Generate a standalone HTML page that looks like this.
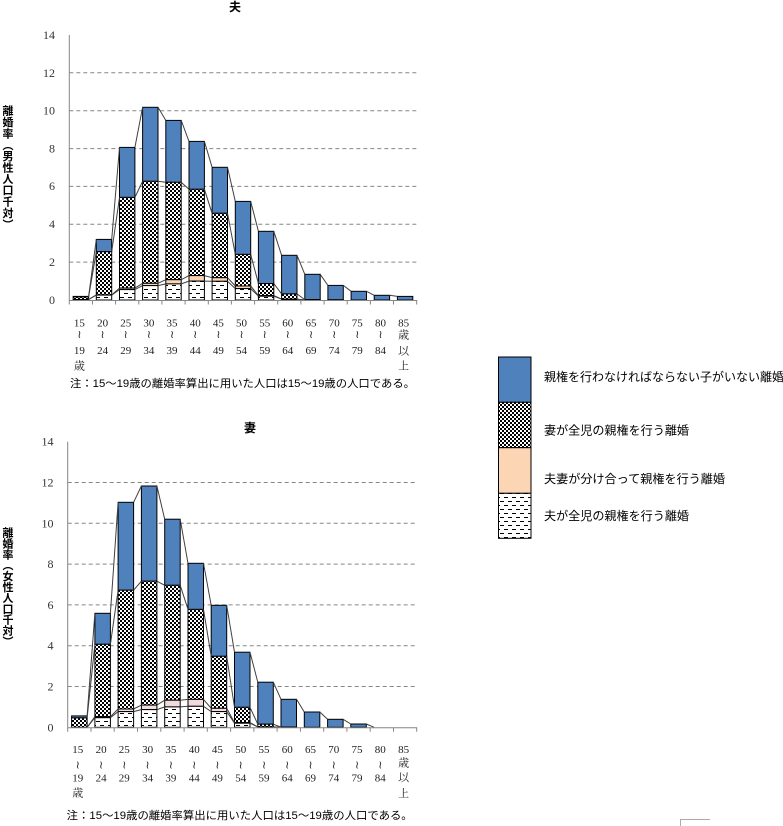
<!DOCTYPE html>
<html><head><meta charset="utf-8"><style>
html,body{margin:0;padding:0;background:#fff;}
svg{display:block;}
text{font-family:"Liberation Sans","Noto Sans CJK JP",sans-serif;}
.num text{font-family:"Liberation Serif","Noto Serif CJK JP",serif;font-size:11px;fill:#222;}
.yl text{font-family:"Liberation Serif","Noto Serif CJK JP",serif;font-size:12px;fill:#333;text-anchor:end;}
.ax text{font-weight:bold;font-size:11px;text-anchor:middle;fill:#000;}
.lg{font-size:12px;fill:#000;}
.note{font-size:11px;fill:#000;}
.grid{stroke:#868686;stroke-width:1;stroke-dasharray:4 3;}
.axis{stroke:#868686;stroke-width:1;fill:none;}
.sl{stroke:#404040;stroke-width:1;fill:none;}
.b{fill:#4f81bd;stroke:#000;stroke-width:1;}
.c{fill:url(#chk);stroke:#000;stroke-width:1;}
.p1{fill:#fcd5b5;stroke:#000;stroke-width:1;}
.p2{fill:#f2dcdb;stroke:#000;stroke-width:1;}
.d{fill:url(#dsh);stroke:#000;stroke-width:1;}
</style></head><body>
<svg width="783" height="826" viewBox="0 0 783 826" xmlns="http://www.w3.org/2000/svg">
<defs>
<pattern id="chk" width="4" height="4" patternUnits="userSpaceOnUse">
<rect width="4" height="4" fill="#fff"/><rect x="0" y="0" width="2" height="2" fill="#000"/><rect x="2" y="2" width="2" height="2" fill="#000"/>
</pattern>
<pattern id="dsh" width="8" height="8" patternUnits="userSpaceOnUse">
<rect width="8" height="8" fill="#fff"/><rect x="0" y="1" width="4" height="1" fill="#000"/><rect x="4" y="5" width="4" height="1" fill="#000"/>
</pattern>
</defs>
<rect width="783" height="826" fill="#fff"/>

<!-- ===== TOP CHART ===== -->
<text x="235" y="11" font-size="12" font-weight="bold" text-anchor="middle">夫</text>
<g>
<line class="grid" x1="69.3" y1="262.1" x2="416.7" y2="262.1"/>
<line class="grid" x1="69.3" y1="224.3" x2="416.7" y2="224.3"/>
<line class="grid" x1="69.3" y1="186.4" x2="416.7" y2="186.4"/>
<line class="grid" x1="69.3" y1="148.6" x2="416.7" y2="148.6"/>
<line class="grid" x1="69.3" y1="110.7" x2="416.7" y2="110.7"/>
<line class="grid" x1="69.3" y1="72.8" x2="416.7" y2="72.8"/>
</g>
<g class="yl">
<text x="55" y="304">0</text>
<text x="55" y="266">2</text>
<text x="55" y="228">4</text>
<text x="55" y="190">6</text>
<text x="55" y="152.5">8</text>
<text x="55" y="114.5">10</text>
<text x="55" y="77">12</text>
<text x="55" y="39">14</text>
</g>
<g class="ax">
<text x="8" y="114.7">離</text><text x="8" y="126.1">婚</text><text x="8" y="137.4">率</text>
<text x="8" y="148.8">︵</text><text x="8" y="160.1">男</text><text x="8" y="171.5">性</text>
<text x="8" y="182.9">人</text><text x="8" y="194.2">口</text><text x="8" y="205.6">千</text>
<text x="8" y="216.9">対</text><text x="8" y="228.3">︶</text>
</g>
<!-- bars top -->
<g>
<rect class="b" x="73.2" y="296.4" width="15.4" height="0.6"/><rect class="c" x="73.2" y="297.0" width="15.4" height="2.6"/><rect class="d" x="73.2" y="299.6" width="15.4" height="0.4"/>
<rect class="b" x="96.3" y="239.4" width="15.4" height="12.3"/><rect class="c" x="96.3" y="251.7" width="15.4" height="43.2"/><rect class="p1" x="96.3" y="294.9" width="15.4" height="0.2"/><rect class="d" x="96.3" y="295.1" width="15.4" height="4.9"/>
<rect class="b" x="119.5" y="147.4" width="15.4" height="50.0"/><rect class="c" x="119.5" y="197.4" width="15.4" height="90.7"/><rect class="p1" x="119.5" y="288.1" width="15.4" height="1.5"/><rect class="d" x="119.5" y="289.6" width="15.4" height="10.4"/>
<rect class="b" x="142.6" y="107.3" width="15.4" height="74.0"/><rect class="c" x="142.6" y="181.3" width="15.4" height="102.0"/><rect class="p1" x="142.6" y="283.3" width="15.4" height="2.3"/><rect class="d" x="142.6" y="285.6" width="15.4" height="14.4"/>
<rect class="b" x="165.8" y="120.4" width="15.4" height="61.9"/><rect class="c" x="165.8" y="182.3" width="15.4" height="97.4"/><rect class="p1" x="165.8" y="279.7" width="15.4" height="4.2"/><rect class="d" x="165.8" y="283.9" width="15.4" height="16.1"/>
<rect class="b" x="189.0" y="141.4" width="15.4" height="47.9"/><rect class="c" x="189.0" y="189.3" width="15.4" height="86.3"/><rect class="p1" x="189.0" y="275.6" width="15.4" height="5.5"/><rect class="d" x="189.0" y="281.1" width="15.4" height="18.9"/>
<rect class="b" x="212.1" y="167.3" width="15.4" height="46.0"/><rect class="c" x="212.1" y="213.3" width="15.4" height="64.4"/><rect class="p1" x="212.1" y="277.7" width="15.4" height="3.6"/><rect class="d" x="212.1" y="281.3" width="15.4" height="18.7"/>
<rect class="b" x="235.3" y="201.4" width="15.4" height="53.0"/><rect class="c" x="235.3" y="254.4" width="15.4" height="31.6"/><rect class="p1" x="235.3" y="286.0" width="15.4" height="2.6"/><rect class="d" x="235.3" y="288.6" width="15.4" height="11.4"/>
<rect class="b" x="258.4" y="231.3" width="15.4" height="52.2"/><rect class="c" x="258.4" y="283.5" width="15.4" height="12.1"/><rect class="p1" x="258.4" y="295.6" width="15.4" height="0.6"/><rect class="d" x="258.4" y="296.2" width="15.4" height="3.8"/>
<rect class="b" x="281.6" y="255.3" width="15.4" height="38.6"/><rect class="c" x="281.6" y="293.9" width="15.4" height="5.3"/><rect class="d" x="281.6" y="299.2" width="15.4" height="0.8"/>
<rect class="b" x="304.8" y="274.3" width="15.4" height="25.3"/><rect class="c" x="304.8" y="299.6" width="15.4" height="0.4"/>
<rect class="b" x="327.9" y="285.4" width="15.4" height="14.4"/><rect class="c" x="327.9" y="299.8" width="15.4" height="0.2"/>
<rect class="b" x="351.1" y="291.3" width="15.4" height="8.7"/>
<rect class="b" x="374.2" y="295.3" width="15.4" height="4.7"/>
<rect class="b" x="397.4" y="296.4" width="15.4" height="3.6"/>
</g>
<path class="sl" d="M88.6 296.4 L96.3 239.4 M111.7 239.4 L119.5 147.4 M134.9 147.4 L142.6 107.3 M158.0 107.3 L165.8 120.4 M181.2 120.4 L189.0 141.4 M204.4 141.4 L212.1 167.3 M227.5 167.3 L235.3 201.4 M250.7 201.4 L258.4 231.3 M273.8 231.3 L281.6 255.3 M297.0 255.3 L304.8 274.3 M320.2 274.3 L327.9 285.4 M343.3 285.4 L351.1 291.3 M366.5 291.3 L374.2 295.3 M389.6 295.3 L397.4 296.4"/>
<path class="sl" d="M88.6 297.0 L96.3 251.7 M111.7 251.7 L119.5 197.4 M134.9 197.4 L142.6 181.3 M158.0 181.3 L165.8 182.3 M181.2 182.3 L189.0 189.3 M204.4 189.3 L212.1 213.3 M227.5 213.3 L235.3 254.4 M250.7 254.4 L258.4 283.5 M273.8 283.5 L281.6 293.9 M297.0 293.9 L304.8 299.6"/>
<path class="sl" d="M88.6 299.6 L96.3 294.9 M111.7 294.9 L119.5 288.1 M134.9 288.1 L142.6 283.3 M158.0 283.3 L165.8 279.7 M181.2 279.7 L189.0 275.6 M204.4 275.6 L212.1 277.7 M227.5 277.7 L235.3 286.0 M250.7 286.0 L258.4 295.6 M273.8 295.6 L281.6 299.1 M297.0 299.1 L304.8 300"/>
<path class="sl" d="M88.6 299.6 L96.3 295.1 M111.7 295.1 L119.5 289.6 M134.9 289.6 L142.6 285.6 M158.0 285.6 L165.8 283.9 M181.2 283.9 L189.0 281.1 M204.4 281.1 L212.1 281.3 M227.5 281.3 L235.3 288.6 M250.7 288.6 L258.4 296.2 M273.8 296.2 L281.6 299.2 M297.0 299.2 L304.8 300"/>
<path class="axis" d="M69.3 35 V300.5 H416.7 M69.3 300 v4.5 M92.5 300 v4.5 M115.6 300 v4.5 M138.8 300 v4.5 M161.9 300 v4.5 M185.1 300 v4.5 M208.3 300 v4.5 M231.4 300 v4.5 M254.6 300 v4.5 M277.7 300 v4.5 M300.9 300 v4.5 M324.1 300 v4.5 M347.2 300 v4.5 M370.4 300 v4.5 M393.5 300 v4.5 M416.7 300 v4.5"/>
<!-- x labels top -->
<g class="num" text-anchor="middle">
<text x="79.4" y="326.5">15</text><text x="79.4" y="338">≀</text><text x="79.4" y="354">19</text><text x="79.4" y="369.5">歳</text>
<text x="102.6" y="326.5">20</text><text x="102.6" y="338">≀</text><text x="102.6" y="354">24</text>
<text x="125.7" y="326.5">25</text><text x="125.7" y="338">≀</text><text x="125.7" y="354">29</text>
<text x="148.9" y="326.5">30</text><text x="148.9" y="338">≀</text><text x="148.9" y="354">34</text>
<text x="172.0" y="326.5">35</text><text x="172.0" y="338">≀</text><text x="172.0" y="354">39</text>
<text x="195.2" y="326.5">40</text><text x="195.2" y="338">≀</text><text x="195.2" y="354">44</text>
<text x="218.4" y="326.5">45</text><text x="218.4" y="338">≀</text><text x="218.4" y="354">49</text>
<text x="241.5" y="326.5">50</text><text x="241.5" y="338">≀</text><text x="241.5" y="354">54</text>
<text x="264.7" y="326.5">55</text><text x="264.7" y="338">≀</text><text x="264.7" y="354">59</text>
<text x="287.8" y="326.5">60</text><text x="287.8" y="338">≀</text><text x="287.8" y="354">64</text>
<text x="311.0" y="326.5">65</text><text x="311.0" y="338">≀</text><text x="311.0" y="354">69</text>
<text x="334.2" y="326.5">70</text><text x="334.2" y="338">≀</text><text x="334.2" y="354">74</text>
<text x="357.3" y="326.5">75</text><text x="357.3" y="338">≀</text><text x="357.3" y="354">79</text>
<text x="380.5" y="326.5">80</text><text x="380.5" y="338">≀</text><text x="380.5" y="354">84</text>
<text x="403.6" y="326.5">85</text><text x="403.6" y="338.5">歳</text><text x="403.6" y="354.5">以</text><text x="403.6" y="369.5">上</text>
</g>
<text class="note" x="70" y="387" textLength="345" lengthAdjust="spacingAndGlyphs">注：15〜19歳の離婚率算出に用いた人口は15〜19歳の人口である。</text>

<!-- ===== BOTTOM CHART ===== -->
<text x="250" y="432" font-size="12" font-weight="bold" text-anchor="middle">妻</text>
<g>
<line class="grid" x1="67.7" y1="686.5" x2="416.7" y2="686.5"/>
<line class="grid" x1="67.7" y1="645.7" x2="416.7" y2="645.7"/>
<line class="grid" x1="67.7" y1="604.9" x2="416.7" y2="604.9"/>
<line class="grid" x1="67.7" y1="564.1" x2="416.7" y2="564.1"/>
<line class="grid" x1="67.7" y1="523.3" x2="416.7" y2="523.3"/>
<line class="grid" x1="67.7" y1="482.5" x2="416.7" y2="482.5"/>
</g>
<g class="yl">
<text x="53.5" y="731.5">0</text>
<text x="53.5" y="690.5">2</text>
<text x="53.5" y="649.7">4</text>
<text x="53.5" y="609">6</text>
<text x="53.5" y="568">8</text>
<text x="53.5" y="527.3">10</text>
<text x="53.5" y="486.5">12</text>
<text x="53.5" y="445.7">14</text>
</g>
<g class="ax">
<text x="8" y="536.5">離</text><text x="8" y="547.4">婚</text><text x="8" y="558.3">率</text>
<text x="8" y="569.2">︵</text><text x="8" y="580.1">女</text><text x="8" y="591">性</text>
<text x="8" y="601.9">人</text><text x="8" y="612.8">口</text><text x="8" y="623.7">千</text>
<text x="8" y="634.6">対</text><text x="8" y="645.5">︶</text>
</g>
<g>
<rect class="b" x="71.6" y="715.9" width="15.5" height="2.0"/><rect class="c" x="71.6" y="717.9" width="15.5" height="9.4"/>
<rect class="b" x="94.9" y="613.3" width="15.5" height="31.0"/><rect class="c" x="94.9" y="644.3" width="15.5" height="72.4"/><rect class="p2" x="94.9" y="716.7" width="15.5" height="1.0"/><rect class="d" x="94.9" y="717.7" width="15.5" height="9.6"/>
<rect class="b" x="118.1" y="502.3" width="15.5" height="87.9"/><rect class="c" x="118.1" y="590.2" width="15.5" height="118.8"/><rect class="p2" x="118.1" y="709.0" width="15.5" height="2.6"/><rect class="d" x="118.1" y="711.6" width="15.5" height="15.7"/>
<rect class="b" x="141.4" y="486.0" width="15.5" height="95.2"/><rect class="c" x="141.4" y="581.2" width="15.5" height="123.9"/><rect class="p2" x="141.4" y="705.1" width="15.5" height="4.5"/><rect class="d" x="141.4" y="709.6" width="15.5" height="17.7"/>
<rect class="b" x="164.7" y="519.2" width="15.5" height="66.1"/><rect class="c" x="164.7" y="585.3" width="15.5" height="114.9"/><rect class="p2" x="164.7" y="700.2" width="15.5" height="6.7"/><rect class="d" x="164.7" y="706.9" width="15.5" height="20.4"/>
<rect class="b" x="188.0" y="563.3" width="15.5" height="46.1"/><rect class="c" x="188.0" y="609.4" width="15.5" height="90.0"/><rect class="p2" x="188.0" y="699.4" width="15.5" height="6.9"/><rect class="d" x="188.0" y="706.3" width="15.5" height="21.0"/>
<rect class="b" x="211.2" y="605.3" width="15.5" height="51.0"/><rect class="c" x="211.2" y="656.3" width="15.5" height="52.0"/><rect class="p2" x="211.2" y="708.3" width="15.5" height="3.3"/><rect class="d" x="211.2" y="711.6" width="15.5" height="15.7"/>
<rect class="b" x="234.5" y="652.2" width="15.5" height="55.1"/><rect class="c" x="234.5" y="707.3" width="15.5" height="15.3"/><rect class="p2" x="234.5" y="722.6" width="15.5" height="0.6"/><rect class="d" x="234.5" y="723.2" width="15.5" height="4.1"/>
<rect class="b" x="257.8" y="682.2" width="15.5" height="42.0"/><rect class="c" x="257.8" y="724.2" width="15.5" height="2.7"/><rect class="d" x="257.8" y="726.9" width="15.5" height="0.4"/>
<rect class="b" x="281.0" y="699.3" width="15.5" height="27.8"/><rect class="c" x="281.0" y="727.1" width="15.5" height="0.2"/>
<rect class="b" x="304.3" y="712.0" width="15.5" height="15.3"/>
<rect class="b" x="327.6" y="719.3" width="15.5" height="8.0"/>
<rect class="b" x="350.8" y="724.0" width="15.5" height="3.3"/>
</g>
<path class="sl" d="M87.1 715.9 L94.9 613.3 M110.4 613.3 L118.1 502.3 M133.6 502.3 L141.4 486.0 M156.9 486.0 L164.7 519.2 M180.2 519.2 L188.0 563.3 M203.5 563.3 L211.2 605.3 M226.7 605.3 L234.5 652.2 M250.0 652.2 L257.8 682.2 M273.3 682.2 L281.0 699.3 M296.5 699.3 L304.3 712.0 M319.8 712.0 L327.6 719.3 M343.1 719.3 L350.8 724.0 M366.3 724.0 L374.1 727.3"/>
<path class="sl" d="M87.1 717.9 L94.9 644.3 M110.4 644.3 L118.1 590.2 M133.6 590.2 L141.4 581.2 M156.9 581.2 L164.7 585.3 M180.2 585.3 L188.0 609.4 M203.5 609.4 L211.2 656.3 M226.7 656.3 L234.5 707.3 M250.0 707.3 L257.8 724.2 M273.3 724.2 L281.0 727.1"/>
<path class="sl" d="M87.1 727.3 L94.9 716.7 M110.4 716.7 L118.1 709.0 M133.6 709.0 L141.4 705.1 M156.9 705.1 L164.7 700.2 M180.2 700.2 L188.0 699.4 M203.5 699.4 L211.2 708.3 M226.7 708.3 L234.5 722.6 M250.0 722.6 L257.8 726.9 M273.3 726.9 L281.0 727.3"/>
<path class="sl" d="M87.1 727.3 L94.9 717.7 M110.4 717.7 L118.1 711.6 M133.6 711.6 L141.4 709.6 M156.9 709.6 L164.7 706.9 M180.2 706.9 L188.0 706.3 M203.5 706.3 L211.2 711.6 M226.7 711.6 L234.5 723.2 M250.0 723.2 L257.8 726.9 M273.3 726.9 L281.0 727.3"/>
<path class="axis" d="M67.7 441.7 V727.8 H416.7 M67.7 727.3 v4.5 M91.0 727.3 v4.5 M114.2 727.3 v4.5 M137.5 727.3 v4.5 M160.8 727.3 v4.5 M184.1 727.3 v4.5 M207.3 727.3 v4.5 M230.6 727.3 v4.5 M253.9 727.3 v4.5 M277.1 727.3 v4.5 M300.4 727.3 v4.5 M323.7 727.3 v4.5 M346.9 727.3 v4.5 M370.2 727.3 v4.5 M393.5 727.3 v4.5 M416.7 727.3 v4.5"/>
<g class="num" text-anchor="middle">
<text x="77.8" y="753">15</text><text x="77.8" y="768.5">≀</text><text x="77.8" y="781.3">19</text><text x="77.8" y="796.7">歳</text>
<text x="101.1" y="753">20</text><text x="101.1" y="768.5">≀</text><text x="101.1" y="781.3">24</text>
<text x="124.3" y="753">25</text><text x="124.3" y="768.5">≀</text><text x="124.3" y="781.3">29</text>
<text x="147.6" y="753">30</text><text x="147.6" y="768.5">≀</text><text x="147.6" y="781.3">34</text>
<text x="170.9" y="753">35</text><text x="170.9" y="768.5">≀</text><text x="170.9" y="781.3">39</text>
<text x="194.2" y="753">40</text><text x="194.2" y="768.5">≀</text><text x="194.2" y="781.3">44</text>
<text x="217.4" y="753">45</text><text x="217.4" y="768.5">≀</text><text x="217.4" y="781.3">49</text>
<text x="240.7" y="753">50</text><text x="240.7" y="768.5">≀</text><text x="240.7" y="781.3">54</text>
<text x="264.0" y="753">55</text><text x="264.0" y="768.5">≀</text><text x="264.0" y="781.3">59</text>
<text x="287.2" y="753">60</text><text x="287.2" y="768.5">≀</text><text x="287.2" y="781.3">64</text>
<text x="310.5" y="753">65</text><text x="310.5" y="768.5">≀</text><text x="310.5" y="781.3">69</text>
<text x="333.8" y="753">70</text><text x="333.8" y="768.5">≀</text><text x="333.8" y="781.3">74</text>
<text x="357.0" y="753">75</text><text x="357.0" y="768.5">≀</text><text x="357.0" y="781.3">79</text>
<text x="380.3" y="753">80</text><text x="380.3" y="768.5">≀</text><text x="380.3" y="781.3">84</text>
<text x="403.6" y="753">85</text><text x="403.6" y="766.5">歳</text><text x="403.6" y="781">以</text><text x="403.6" y="797">上</text>
</g>
<text class="note" x="66.7" y="819" textLength="346" lengthAdjust="spacingAndGlyphs">注：15〜19歳の離婚率算出に用いた人口は15〜19歳の人口である。</text>

<!-- ===== LEGEND ===== -->
<rect class="b" x="498.5" y="357" width="32.5" height="45.3"/>
<rect class="c" x="498.5" y="402.3" width="32.5" height="45.4"/>
<rect x="498.5" y="447.7" width="32.5" height="45.6" fill="#fcd5b5" stroke="#000" stroke-width="1"/>
<rect class="d" x="498.5" y="493.3" width="32.5" height="45"/>
<text class="lg" x="544" y="381" textLength="240" lengthAdjust="spacingAndGlyphs">親権を行わなければならない子がいない離婚</text>
<text class="lg" x="544" y="434.5" textLength="145" lengthAdjust="spacingAndGlyphs">妻が全児の親権を行う離婚</text>
<text class="lg" x="544" y="483" textLength="181" lengthAdjust="spacingAndGlyphs">夫妻が分け合って親権を行う離婚</text>
<text class="lg" x="544" y="520" textLength="145" lengthAdjust="spacingAndGlyphs">夫が全児の親権を行う離婚</text>

<path d="M680.5 826 V819.5 H710" stroke="#aaa" stroke-width="1" fill="none"/>
</svg>
</body></html>
